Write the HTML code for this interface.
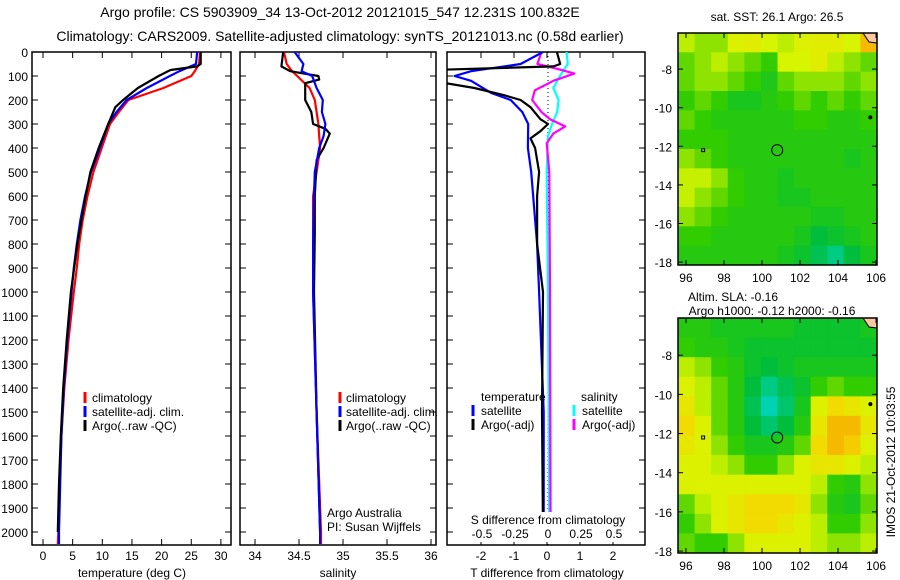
<!DOCTYPE html>
<html><head><meta charset="utf-8"><style>
body{margin:0;background:#fff}
svg{display:block;font-family:"Liberation Sans",sans-serif}
</style></head><body>
<svg id="c" width="900" height="580" viewBox="0 0 900 580"></svg>
<script>
// ---------- data ----------
const tDepth = [0,50,80,100,150,200,250,300,400,500,600,700,800,900,1000,1200,1400,1600,1800,2000,2050];
const tClim  = [26.5,26.3,25.6,25,20.3,14.4,12.8,11.3,9.9,8.5,7.5,6.7,6.1,5.7,5.2,4.3,3.6,3.1,2.8,2.6,2.5];
const tSat   = [26,25.8,23,21.4,17.5,14.1,12.4,11,9.6,8.1,7.1,6.3,5.7,5.2,4.8,4.1,3.5,3.1,2.9,2.7,2.7];
const argoDepth = [0,50,60,75,100,150,200,230,300,400,500,600,800,1000,1200,1400,1600,1800,2000];
const tArgo  = [26.6,26.6,26,21.5,19.5,16,13.5,12.2,11,9.4,8,7.2,5.8,4.7,4,3.4,3,2.7,2.5];
const sDepth = [0,50,80,100,150,200,250,300,350,400,500,600,800,1000,1500,2000,2050];
const sClim  = [34.33,34.36,34.42,34.48,34.62,34.68,34.7,34.72,34.73,34.74,34.7,34.66,34.66,34.66,34.7,34.75,34.75];
const sSat   = [34.45,34.55,34.53,34.65,34.7,34.77,34.76,34.8,34.78,34.73,34.68,34.67,34.66,34.66,34.7,34.74,34.74];
const sArgoDepth = [0,60,80,100,115,130,200,250,300,320,340,400,450,600,750,1000,1500,2000];
const sArgo  = [34.32,34.3,34.4,34.72,34.73,34.57,34.57,34.64,34.66,34.8,34.85,34.78,34.7,34.68,34.68,34.67,34.7,34.74];
const dTDepth = [0,50,80,100,120,170,200,250,300,400,500,800,1000,1500,2000];
const dTSat   = [-0.12,-0.8,-2.3,-2.8,-2.3,-1.7,-1.1,-0.75,-0.57,-0.58,-0.48,-0.3,-0.24,-0.1,-0.1];
const dTArgoDepth = [0,50,60,75,120,150,180,200,230,280,300,330,360,400,500,600,800,1000,1500,2000];
const dTArgo  = [0.3,0.4,0.2,-3.5,-3.5,-2.2,-1.3,-0.8,-0.5,-0.2,0.03,-0.2,-0.5,-0.36,-0.24,-0.3,-0.3,-0.12,-0.15,-0.12];
const dSDepth = [0,50,100,150,200,250,300,350,500,1000,2000];
const dSSat   = [0.14,0.15,0.09,0.04,0.08,0.07,0.03,0,-0.01,0,0.01];
const dSArgoDepth = [0,50,70,90,120,160,200,250,280,310,340,380,500,1000,2000];
const dSArgo  = [-0.05,-0.08,0.07,0.2,0.04,-0.1,-0.12,-0.05,0.015,0.13,0.04,-0.01,0.01,0.015,0.02];
const depthTicks = [0,100,200,300,400,500,600,700,800,900,1000,1100,1200,1300,1400,1500,1600,1700,1800,1900,2000];
const tTicks = [0,5,10,15,20,25,30];
const sTicks = [34,34.5,35,35.5,36];
const sTickLabels = ["34","34.5","35","35.5","36"];
const dTTicks = [-2,-1,0,1,2];
const dSTicks = [-0.5,-0.25,0,0.25,0.5];
const lonTicks = [96,98,100,102,104,106];
const latTicks = [-8,-10,-12,-14,-16,-18];
const sstGrid = [
[.65,.6,.6,.7,.72,.68,.65,.7,.72,.72,.68,.9],
[.55,.6,.65,.6,.55,.5,.68,.68,.72,.65,.6,.55],
[.55,.6,.6,.55,.5,.42,.55,.6,.6,.6,.55,.6],
[.5,.55,.5,.4,.4,.45,.5,.55,.5,.55,.5,.55],
[.55,.5,.45,.45,.45,.45,.45,.5,.5,.45,.45,.5],
[.5,.5,.5,.45,.45,.45,.45,.45,.45,.45,.45,.45],
[.6,.55,.5,.45,.45,.45,.45,.45,.45,.45,.4,.45],
[.66,.66,.6,.5,.45,.45,.4,.45,.45,.45,.45,.45],
[.66,.6,.55,.5,.45,.45,.4,.4,.45,.45,.45,.45],
[.6,.55,.5,.45,.45,.45,.45,.45,.4,.4,.45,.45],
[.5,.5,.45,.45,.45,.45,.45,.4,.3,.35,.4,.45],
[.45,.45,.45,.45,.45,.45,.4,.35,.25,.15,.3,.4]];
const slaGrid = [
[.45,.45,.4,.4,.4,.4,.4,.35,.35,.35,.35,.4],
[.5,.45,.45,.4,.35,.35,.35,.35,.35,.35,.35,.35],
[.65,.6,.5,.45,.35,.3,.35,.4,.4,.4,.4,.4],
[.7,.65,.55,.45,.3,.15,.25,.35,.5,.55,.5,.5],
[.75,.65,.55,.45,.25,.05,.2,.4,.7,.8,.75,.7],
[.8,.7,.55,.45,.3,.2,.3,.45,.75,.9,.9,.75],
[.75,.7,.6,.5,.4,.4,.45,.55,.8,.9,.85,.7],
[.7,.7,.65,.6,.5,.5,.6,.7,.75,.75,.7,.65],
[.7,.7,.7,.7,.7,.7,.7,.7,.65,.5,.45,.6],
[.55,.65,.7,.75,.8,.8,.8,.75,.6,.45,.4,.55],
[.5,.6,.7,.75,.8,.8,.75,.7,.65,.5,.5,.6],
[.55,.5,.5,.6,.7,.7,.7,.7,.65,.6,.6,.65]];
const argoLon = 100.8, argoLat = -12.2;

// ---------- helpers ----------
const svg = document.getElementById('c');
const NS = 'http://www.w3.org/2000/svg';
function mk(tag, attrs, parent){const e=document.createElementNS(NS,tag);for(const k in attrs)e.setAttribute(k,attrs[k]);(parent||svg).appendChild(e);return e;}
function txt(x,y,s,anchor,size,parent){const t=mk('text',{x:x,y:y,'text-anchor':anchor||'middle','font-size':size||12,fill:'#000'},parent);t.textContent=s;return t;}
const yTop=52, pxPerM=0.24;
const yD = d => yTop + d*pxPerM;
const P1={x0:32,x1:231,f:v=>43+v*5.93};
const P2={x0:240,x1:436,f:v=>255+(v-34)*88};
const P3={x0:447,x1:645,f:v=>547+v*33};
const fS3 = v => 548+v*132;
const yBot=545;

function frame(p,name){
  const r=mk('rect',{x:p.x0,y:yTop,width:p.x1-p.x0,height:yBot-yTop,fill:'none',stroke:'#000','stroke-width':1.5});
  
  depthTicks.forEach(d=>{const y=yD(d);mk('line',{x1:p.x0,x2:p.x0+6,y1:y,y2:y,stroke:'#000'});mk('line',{x1:p.x1-6,x2:p.x1,y1:y,y2:y,stroke:'#000'});});
}
function clipFor(p,id){const cp=mk('clipPath',{id:id});mk('rect',{x:p.x0,y:yTop,width:p.x1-p.x0,height:yBot-yTop},cp);}
function line(depths,vals,fx,color,name,clip,w){
  const pts=depths.map((d,i)=>fx(vals[i]).toFixed(1)+','+yD(d).toFixed(1)).join(' ');
  const l=mk('polyline',{points:pts,fill:'none',stroke:color,'stroke-width':w||2.2,'stroke-linejoin':'round','clip-path':'url(#'+clip+')'});
  
}
function xTicks(p,ticks,fx,labels,y){
  ticks.forEach((t,i)=>{const x=fx(t);mk('line',{x1:x,x2:x,y1:yTop,y2:yTop+6,stroke:'#000'});mk('line',{x1:x,x2:x,y1:yBot-6,y2:yBot,stroke:'#000'});
    const l=txt(x,y,labels?labels[i]:String(t));});
}
function legendMark(x,y,color){mk('line',{x1:x,x2:x,y1:y-10,y2:y+1,stroke:color,'stroke-width':3});}

// ---------- titles ----------
let t=txt(340,17,'Argo profile: CS 5903909_34 13-Oct-2012 20121015_547 12.231S 100.832E','middle',14);

t=txt(340,41,'Climatology: CARS2009. Satellite-adjusted climatology: synTS_20121013.nc (0.58d earlier)','middle',14);


// ---------- panel 1 ----------
clipFor(P1,'c1');clipFor(P2,'c2');clipFor(P3,'c3');
frame(P1,'temperature-panel');
depthTicks.forEach(d=>{const l=txt(28,yD(d)+5,String(d),'end',12);});
xTicks(P1,tTicks,P1.f,null,560);
t=txt(132,577,'temperature (deg C)');
line(tDepth,tClim,P1.f,'#f00','temp-climatology-line','c1');
line(tDepth,tSat,P1.f,'#00f','temp-satellite-line','c1');
line(argoDepth,tArgo,P1.f,'#000','temp-argo-line','c1');
[['#f00','climatology'],['#00f','satellite-adj. clim.'],['#000','Argo(..raw -QC)']].forEach((e,i)=>{
  const g=mk('g',{});
  legendMark(85,402+i*14,e[0]);txt(92,402+i*14,e[1],'start',12,g);});

// ---------- panel 2 ----------
frame(P2,'salinity-panel');
xTicks(P2,sTicks,P2.f,sTickLabels,560);
t=txt(338,577,'salinity');
line(sDepth,sClim,P2.f,'#f00','sal-climatology-line','c2');
line(sArgoDepth,sArgo,P2.f,'#000','sal-argo-line','c2');
line(sDepth,sSat,P2.f,'#00f','sal-satellite-line','c2');
[['#f00','climatology'],['#00f','satellite-adj. clim.'],['#000','Argo(..raw -QC)']].forEach((e,i)=>{
  const g=mk('g',{});
  legendMark(340,402+i*14,e[0]);txt(346,402+i*14,e[1],'start',12,g);});
t=txt(327,517,'Argo Australia','start',12);
t=txt(327,531,'PI: Susan Wijffels','start',12);

// ---------- panel 3 ----------
frame(P3,'difference-panel');
xTicks(P3,dTTicks,P3.f,null,560);
t=txt(547,577,'T difference from climatology');
mk('line',{x1:548,x2:548,y1:yTop,y2:yBot,stroke:'#000','stroke-dasharray':'1,3'});
line(dSDepth,dSSat,fS3,'#0ff','sdiff-satellite-line','c3');
line(dSArgoDepth,dSArgo,fS3,'#f0f','sdiff-argo-line','c3');
line(dTDepth,dTSat,P3.f,'#00f','tdiff-satellite-line','c3');
line(dTArgoDepth,dTArgo,P3.f,'#000','tdiff-argo-line','c3');
mk('rect',{x:462,y:512,width:172,height:30,fill:'#fff'});
t=txt(548,524,'S difference from climatology');
dSTicks.forEach(v=>{const l=txt(fS3(v),538,String(v));});
t=txt(481,401,'temperature','start',12);
t=txt(581,401,'salinity','start',12);
[['#00f','satellite',473],['#000','Argo(-adj)',473],['#0ff','satellite',574],['#f0f','Argo(-adj)',574]].forEach((e,i)=>{
  const g=mk('g',{});
  const y=415+(i%2)*14;legendMark(e[2],y,e[0]);txt(e[2]+8,y,e[1],'start',12,g);});

// ---------- maps ----------
const stops=[[0,[0,215,200]],[0.3,[0,190,60]],[0.5,[50,205,0]],[0.68,[215,245,0]],[0.82,[245,215,0]],[1,[245,150,0]]];
function col(v){for(let i=1;i<stops.length;i++){if(v<=stops[i][0]){const a=stops[i-1],b=stops[i];const f=(v-a[0])/(b[0]-a[0]);
  return 'rgb('+a[1].map((c,k)=>Math.round(c+(b[1][k]-c)*f)).join(',')+')';}}return 'rgb(245,150,0)';}
function drawMap(grid,y0,y1,latTop,latBot,name,titles){
  const x0=678,x1=877,lonL=95.58,lonR=106.05;
  const fx=l=>x0+(l-lonL)/(lonR-lonL)*(x1-x0);
  const fy=l=>y0+(latTop-l)/(latTop-latBot)*(y1-y0);
  const g=mk('g',{});
  const R=grid.length,C=grid[0].length,cw=(x1-x0)/C,ch=(y1-y0)/R;
  grid.forEach((row,r)=>row.forEach((v,c)=>{const cell=mk('rect',{x:x0+c*cw,y:y0+r*ch,width:cw+0.5,height:ch+0.5,fill:col(v)},g);
    }));
  mk('path',{d:`M${x1-14},${y0} L${x1},${y0} L${x1},${y0+10} L${x1-8},${y0+9} Z`,fill:'#f8c8a0',stroke:'#000'},g);
  mk('circle',{cx:fx(105.7),cy:fy(-10.5),r:2,fill:'#000'},g);
  mk('rect',{x:fx(96.9)-1.5,y:fy(-12.2)-1.5,width:3,height:3,fill:'none',stroke:'#000'},g);
  const ci=mk('circle',{cx:fx(argoLon),cy:fy(argoLat),r:5.5,fill:'none',stroke:'#000','stroke-width':1},g);
  
  mk('rect',{x:x0,y:y0,width:x1-x0,height:y1-y0,fill:'none',stroke:'#000','stroke-width':1.5},g);
  lonTicks.forEach(l=>{const x=fx(l);mk('line',{x1:x,x2:x,y1:y1,y2:y1-5,stroke:'#000'},g);mk('line',{x1:x,x2:x,y1:y0,y2:y0+5,stroke:'#000'},g);
    const lb=txt(x,y1+17,String(l),'middle',12,g);});
  latTicks.forEach(l=>{const y=fy(l);mk('line',{x1:x0,x2:x0+5,y1:y,y2:y,stroke:'#000'},g);mk('line',{x1:x1-5,x2:x1,y1:y,y2:y,stroke:'#000'},g);
    const lb=txt(x0-6,y+5,String(l),'end',12,g);});
  titles.forEach(s=>{const lb=txt(s[1],s[2],s[0],'middle',12);});
}
drawMap(sstGrid,33,265,-6.13,-18.15,'sst-map',[['sat. SST: 26.1  Argo: 26.5',777,21]]);
drawMap(slaGrid,318,553,-6.1,-18.1,'sla-map',[['Altim. SLA: -0.16',733,301],['Argo h1000: -0.12 h2000: -0.16',772,315]]);
t=txt(0,0,'IMOS 21-Oct-2012 10:03:55','middle',12);
t.setAttribute('transform','translate(895,462) rotate(-90)');

</script>
</body></html>
